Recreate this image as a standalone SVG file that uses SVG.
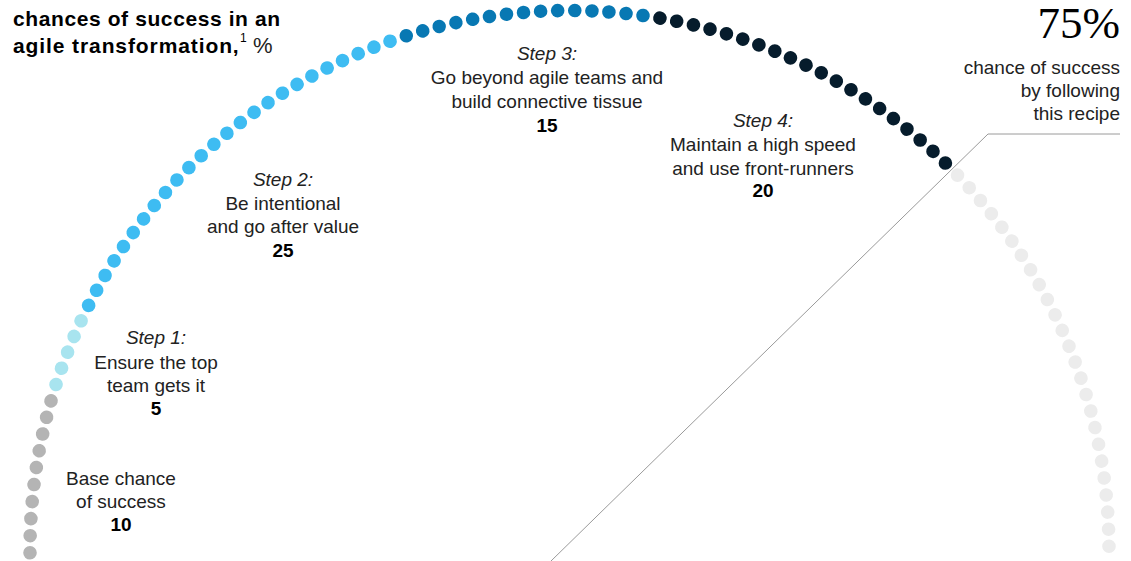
<svg xmlns="http://www.w3.org/2000/svg" width="1131" height="561" viewBox="0 0 1131 561">
<style>
text{font-family:"Liberation Sans",Arial,sans-serif;fill:#222;}
.t{font-size:19px;text-anchor:middle;}
.i{font-style:italic;}
.n{font-weight:bold;fill:#000;}
.r{font-size:19px;text-anchor:end;}
.title{font-size:21px;font-weight:bold;fill:#000;letter-spacing:0.6px;}
.g0{fill:#b4b4b4}.g1{fill:#a8e4ef}.g2{fill:#3ebcf2}.g3{fill:#0878b3}.g4{fill:#061c2c}.g5{fill:#ececec}
</style>
<defs><circle id="d" cx="569.5" cy="10.5" r="6.8"/></defs>
<rect width="1131" height="561" fill="#fff"/>
<g id="connectors"><polyline points="551,561 988,134 1120,134" fill="none" stroke="#9a9a9a" stroke-width="1"/></g>
<g id="arc-remaining" class="g5">
<use href="#d" transform="rotate(45.99 569.5 550)"/><use href="#d" transform="rotate(47.81 569.5 550)"/><use href="#d" transform="rotate(49.62 569.5 550)"/><use href="#d" transform="rotate(51.44 569.5 550)"/><use href="#d" transform="rotate(53.26 569.5 550)"/><use href="#d" transform="rotate(55.08 569.5 550)"/><use href="#d" transform="rotate(56.89 569.5 550)"/><use href="#d" transform="rotate(58.71 569.5 550)"/><use href="#d" transform="rotate(60.53 569.5 550)"/><use href="#d" transform="rotate(62.34 569.5 550)"/><use href="#d" transform="rotate(64.16 569.5 550)"/><use href="#d" transform="rotate(65.98 569.5 550)"/><use href="#d" transform="rotate(67.80 569.5 550)"/><use href="#d" transform="rotate(69.61 569.5 550)"/><use href="#d" transform="rotate(71.43 569.5 550)"/><use href="#d" transform="rotate(73.25 569.5 550)"/><use href="#d" transform="rotate(75.07 569.5 550)"/><use href="#d" transform="rotate(76.88 569.5 550)"/><use href="#d" transform="rotate(78.70 569.5 550)"/><use href="#d" transform="rotate(80.52 569.5 550)"/><use href="#d" transform="rotate(82.33 569.5 550)"/><use href="#d" transform="rotate(84.15 569.5 550)"/><use href="#d" transform="rotate(85.97 569.5 550)"/><use href="#d" transform="rotate(87.79 569.5 550)"/><use href="#d" transform="rotate(89.60 569.5 550)"/>
</g>
<g id="arc-base" class="g0">
<use href="#d" transform="rotate(-90.30 569.5 550)"/><use href="#d" transform="rotate(-88.48 569.5 550)"/><use href="#d" transform="rotate(-86.67 569.5 550)"/><use href="#d" transform="rotate(-84.85 569.5 550)"/><use href="#d" transform="rotate(-83.03 569.5 550)"/><use href="#d" transform="rotate(-81.21 569.5 550)"/><use href="#d" transform="rotate(-79.40 569.5 550)"/><use href="#d" transform="rotate(-77.58 569.5 550)"/><use href="#d" transform="rotate(-75.76 569.5 550)"/><use href="#d" transform="rotate(-73.95 569.5 550)"/>
</g>
<g id="arc-step1" class="g1">
<use href="#d" transform="rotate(-72.13 569.5 550)"/><use href="#d" transform="rotate(-70.31 569.5 550)"/><use href="#d" transform="rotate(-68.49 569.5 550)"/><use href="#d" transform="rotate(-66.68 569.5 550)"/><use href="#d" transform="rotate(-64.86 569.5 550)"/>
</g>
<g id="arc-step2" class="g2">
<use href="#d" transform="rotate(-63.04 569.5 550)"/><use href="#d" transform="rotate(-61.22 569.5 550)"/><use href="#d" transform="rotate(-59.41 569.5 550)"/><use href="#d" transform="rotate(-57.59 569.5 550)"/><use href="#d" transform="rotate(-55.77 569.5 550)"/><use href="#d" transform="rotate(-53.96 569.5 550)"/><use href="#d" transform="rotate(-52.14 569.5 550)"/><use href="#d" transform="rotate(-50.32 569.5 550)"/><use href="#d" transform="rotate(-48.50 569.5 550)"/><use href="#d" transform="rotate(-46.69 569.5 550)"/><use href="#d" transform="rotate(-44.87 569.5 550)"/><use href="#d" transform="rotate(-43.05 569.5 550)"/><use href="#d" transform="rotate(-41.24 569.5 550)"/><use href="#d" transform="rotate(-39.42 569.5 550)"/><use href="#d" transform="rotate(-37.60 569.5 550)"/><use href="#d" transform="rotate(-35.78 569.5 550)"/><use href="#d" transform="rotate(-33.97 569.5 550)"/><use href="#d" transform="rotate(-32.15 569.5 550)"/><use href="#d" transform="rotate(-30.33 569.5 550)"/><use href="#d" transform="rotate(-28.52 569.5 550)"/><use href="#d" transform="rotate(-26.70 569.5 550)"/><use href="#d" transform="rotate(-24.88 569.5 550)"/><use href="#d" transform="rotate(-23.06 569.5 550)"/><use href="#d" transform="rotate(-21.25 569.5 550)"/><use href="#d" transform="rotate(-19.43 569.5 550)"/>
</g>
<g id="arc-step3" class="g3">
<use href="#d" transform="rotate(-17.61 569.5 550)"/><use href="#d" transform="rotate(-15.79 569.5 550)"/><use href="#d" transform="rotate(-13.98 569.5 550)"/><use href="#d" transform="rotate(-12.16 569.5 550)"/><use href="#d" transform="rotate(-10.34 569.5 550)"/><use href="#d" transform="rotate(-8.53 569.5 550)"/><use href="#d" transform="rotate(-6.71 569.5 550)"/><use href="#d" transform="rotate(-4.89 569.5 550)"/><use href="#d" transform="rotate(-3.07 569.5 550)"/><use href="#d" transform="rotate(-1.26 569.5 550)"/><use href="#d" transform="rotate(0.56 569.5 550)"/><use href="#d" transform="rotate(2.38 569.5 550)"/><use href="#d" transform="rotate(4.19 569.5 550)"/><use href="#d" transform="rotate(6.01 569.5 550)"/><use href="#d" transform="rotate(7.83 569.5 550)"/>
</g>
<g id="arc-step4" class="g4">
<use href="#d" transform="rotate(9.65 569.5 550)"/><use href="#d" transform="rotate(11.46 569.5 550)"/><use href="#d" transform="rotate(13.28 569.5 550)"/><use href="#d" transform="rotate(15.10 569.5 550)"/><use href="#d" transform="rotate(16.91 569.5 550)"/><use href="#d" transform="rotate(18.73 569.5 550)"/><use href="#d" transform="rotate(20.55 569.5 550)"/><use href="#d" transform="rotate(22.37 569.5 550)"/><use href="#d" transform="rotate(24.18 569.5 550)"/><use href="#d" transform="rotate(26.00 569.5 550)"/><use href="#d" transform="rotate(27.82 569.5 550)"/><use href="#d" transform="rotate(29.64 569.5 550)"/><use href="#d" transform="rotate(31.45 569.5 550)"/><use href="#d" transform="rotate(33.27 569.5 550)"/><use href="#d" transform="rotate(35.09 569.5 550)"/><use href="#d" transform="rotate(36.90 569.5 550)"/><use href="#d" transform="rotate(38.72 569.5 550)"/><use href="#d" transform="rotate(40.54 569.5 550)"/><use href="#d" transform="rotate(42.36 569.5 550)"/><use href="#d" transform="rotate(44.17 569.5 550)"/>
</g>
<g id="title">
<text class="title" x="13" y="53" style="letter-spacing:0.9px">agile transformation,</text>
<text class="title" x="13" y="26">chances of success in an</text>
<text x="240" y="42" style="font-size:12px;fill:#000">1</text>
<text x="253" y="53" style="font-size:22px;fill:#222">%</text>
</g>
<g id="label-base">
<text class="t" x="121" y="485">Base chance</text>
<text class="t" x="121" y="508">of success</text>
<text class="t n" x="121" y="531">10</text>
</g>
<g id="label-step1">
<text class="t i" x="156" y="344">Step 1:</text>
<text class="t" x="156" y="369">Ensure the top</text>
<text class="t" x="156" y="392">team gets it</text>
<text class="t n" x="156" y="415">5</text>
</g>
<g id="label-step2">
<text class="t i" x="283" y="186">Step 2:</text>
<text class="t" x="283" y="210">Be intentional</text>
<text class="t" x="283" y="233">and go after value</text>
<text class="t n" x="283" y="257">25</text>
</g>
<g id="label-step3">
<text class="t i" x="547" y="60">Step 3:</text>
<text class="t" x="547" y="84">Go beyond agile teams and</text>
<text class="t" x="547" y="108">build connective tissue</text>
<text class="t n" x="547" y="132">15</text>
</g>
<g id="label-step4">
<text class="t i" x="763" y="127">Step 4:</text>
<text class="t" x="763" y="151">Maintain a high speed</text>
<text class="t" x="763" y="175">and use front-runners</text>
<text class="t n" x="763" y="197">20</text>
</g>
<g id="label-total">
<text x="1120" y="38" text-anchor="end" style="font-family:'Liberation Serif','Times New Roman',serif;font-size:45px;fill:#000">75%</text>
<text class="r" x="1120" y="74">chance of success</text>
<text class="r" x="1120" y="97">by following</text>
<text class="r" x="1120" y="120">this recipe</text>
</g>
</svg>
